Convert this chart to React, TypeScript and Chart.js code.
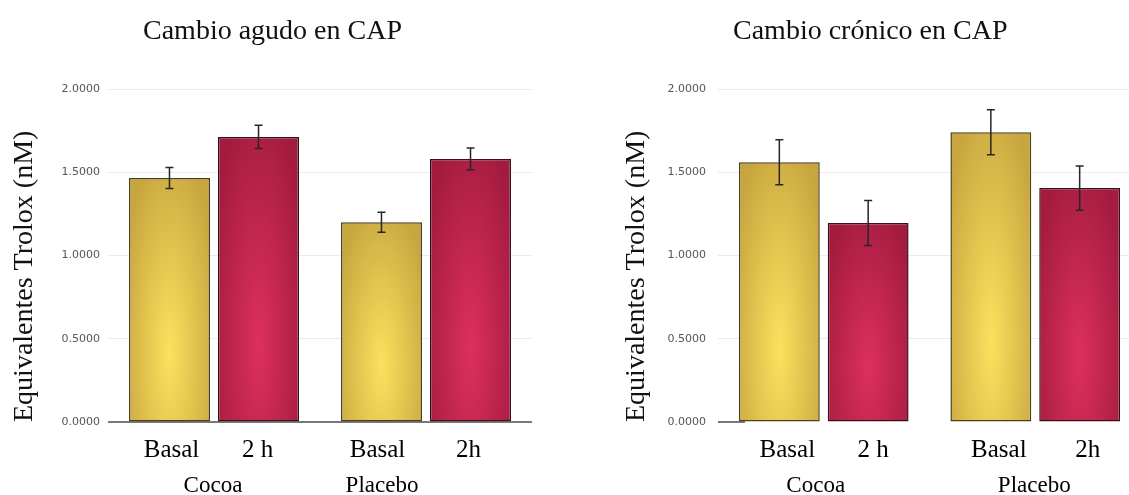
import React, { useEffect, useRef } from 'react';
import { Chart, registerables } from 'chart.js';

Chart.register(...registerables);

// ---------- data ----------
const groups = ['Cocoa', 'Placebo'];
const seriesNames = ['Basal', '2 h'];
const acuteBarLabels = ['Basal', '2 h', 'Basal', '2h'];
const chronicBarLabels = ['Basal', '2 h', 'Basal', '2h'];

const acuteBasal = [1.465, 1.2];
const acuteBasalErr = [0.063, 0.06];
const acute2h = [1.712, 1.58];
const acute2hErr = [0.07, 0.065];

const chronicBasal = [1.56, 1.74];
const chronicBasalErr = [0.135, 0.135];
const chronic2h = [1.195, 1.405];
const chronic2hErr = [0.135, 0.133];

const yTicks = [0, 0.5, 1, 1.5, 2];
const yTitle = 'Equivalentes Trolox (nM)';
const acuteTitle = 'Cambio agudo en CAP';
const chronicTitle = 'Cambio crónico en CAP';

// ---------- style ----------
const YELLOW = { inner: '#fbe15e', outer: '#c8a63f', border: '#4a3f1c' };
const RED = { inner: '#dc305d', outer: '#a41b40', border: '#3a0f1c' };
const SERIF = '"Liberation Serif", "Times New Roman", serif';

type Cfg = {
  basal: number[];
  basalErr: number[];
  late: number[];
  lateErr: number[];
  barLabels: string[];
  barDx: number[];
  groupDx: number[];
  yWidth: number;
  tickPad: number;
  titlePad: number;
  padRight: number;
  baselineExtent: number | null;
};

const acuteCfg: Cfg = {
  basal: acuteBasal,
  basalErr: acuteBasalErr,
  late: acute2h,
  lateErr: acute2hErr,
  barLabels: acuteBarLabels,
  barDx: [2, -1, -4, -2],
  groupDx: [-1, -44],
  yWidth: 108,
  tickPad: 8,
  titlePad: 8,
  padRight: 28,
  baselineExtent: null,
};

const chronicCfg: Cfg = {
  basal: chronicBasal,
  basalErr: chronicBasalErr,
  late: chronic2h,
  lateErr: chronic2hErr,
  barLabels: chronicBarLabels,
  barDx: [8, 5, 8, 8],
  groupDx: [-8, -1],
  yWidth: 138,
  tickPad: 12,
  titlePad: 40,
  padRight: 0,
  baselineExtent: 27,
};

function makePlugins(cfg: Cfg) {
  const palettes = [YELLOW, RED];
  const errs = [cfg.basalErr, cfg.lateErr];
  const vals = [cfg.basal, cfg.late];

  const gradient = {
    id: 'barGradient',
    beforeDatasetsDraw(chart: any) {
      chart.data.datasets.forEach((_: any, di: number) => {
        const meta = chart.getDatasetMeta(di);
        const pal = palettes[di];
        meta.data.forEach((el: any) => {
          const { x, y, base, width } = el.getProps(['x', 'y', 'base', 'width'], true);
          const top = Math.min(y, base);
          const h = Math.abs(base - y);
          const w = width;
          const off = document.createElement('canvas');
          off.width = Math.max(1, Math.ceil(w));
          off.height = Math.max(1, Math.ceil(h));
          const c = off.getContext('2d')!;
          c.save();
          c.translate(w / 2, h * 0.72);
          c.scale(w * 0.62, h * 0.85);
          const g = c.createRadialGradient(0, 0, 0, 0, 0, 1);
          g.addColorStop(0, pal.inner);
          g.addColorStop(1, pal.outer);
          c.fillStyle = g;
          c.fillRect(-5, -5, 10, 10);
          c.restore();
          const pattern = chart.ctx.createPattern(off, 'no-repeat');
          if (pattern) {
            pattern.setTransform(new DOMMatrix().translate(x - w / 2, top));
            el.options = Object.assign({}, el.options, { backgroundColor: pattern });
          }
        });
      });
    },
  };

  const errorBars = {
    id: 'errorBars',
    afterDatasetsDraw(chart: any) {
      const ctx = chart.ctx;
      const ys = chart.scales.y;
      ctx.save();
      ctx.strokeStyle = '#262626';
      ctx.lineWidth = 1.5;
      chart.data.datasets.forEach((_: any, di: number) => {
        const meta = chart.getDatasetMeta(di);
        meta.data.forEach((el: any, gi: number) => {
          const v = vals[di][gi];
          const e = errs[di][gi];
          const yTop = ys.getPixelForValue(v + e);
          const yBot = ys.getPixelForValue(v - e);
          const x = el.x;
          const cap = 4;
          ctx.beginPath();
          ctx.moveTo(x, yTop);
          ctx.lineTo(x, yBot);
          ctx.moveTo(x - cap, yTop);
          ctx.lineTo(x + cap, yTop);
          ctx.moveTo(x - cap, yBot);
          ctx.lineTo(x + cap, yBot);
          ctx.stroke();
        });
      });
      ctx.restore();
    },
  };

  const baseline = {
    id: 'baseline',
    afterDatasetsDraw(chart: any) {
      const ctx = chart.ctx;
      const area = chart.chartArea;
      const y0 = chart.scales.y.getPixelForValue(0);
      const xEnd = cfg.baselineExtent == null ? area.right : area.left + cfg.baselineExtent;
      ctx.save();
      ctx.strokeStyle = '#4d4d4d';
      ctx.lineWidth = 1.5;
      ctx.beginPath();
      ctx.moveTo(area.left, y0);
      ctx.lineTo(xEnd, y0);
      ctx.stroke();
      ctx.restore();
    },
  };

  const labels = {
    id: 'twoLevelLabels',
    afterDraw(chart: any) {
      const ctx = chart.ctx;
      const area = chart.chartArea;
      ctx.save();
      ctx.fillStyle = '#000';
      ctx.textAlign = 'center';
      ctx.textBaseline = 'alphabetic';
      ctx.font = `25px ${SERIF}`;
      chart.data.datasets.forEach((_: any, di: number) => {
        const meta = chart.getDatasetMeta(di);
        meta.data.forEach((el: any, gi: number) => {
          const idx = gi * 2 + di;
          ctx.fillText(cfg.barLabels[idx], el.x + cfg.barDx[idx], area.bottom + 35);
        });
      });
      ctx.font = `23px ${SERIF}`;
      groups.forEach((g, gi) => {
        const x = chart.scales.x.getPixelForValue(gi) + cfg.groupDx[gi];
        ctx.fillText(g, x, area.bottom + 70);
      });
      ctx.restore();
    },
  };

  return [gradient, errorBars, baseline, labels];
}

function BarPanel({ cfg, left, width }: { cfg: Cfg; left: number; width: number }) {
  const ref = useRef<HTMLCanvasElement | null>(null);
  useEffect(() => {
    if (!ref.current) return;
    const chart = new Chart(ref.current, {
      type: 'bar',
      data: {
        labels: groups,
        datasets: [
          {
            label: seriesNames[0],
            data: cfg.basal,
            backgroundColor: YELLOW.outer,
            borderColor: YELLOW.border,
            borderWidth: 1.5,
            borderSkipped: false,
            categoryPercentage: 0.84,
            barPercentage: 0.91,
          },
          {
            label: seriesNames[1],
            data: cfg.late,
            backgroundColor: RED.outer,
            borderColor: RED.border,
            borderWidth: 1.5,
            borderSkipped: false,
            categoryPercentage: 0.84,
            barPercentage: 0.91,
          },
        ],
      },
      options: {
        responsive: false,
        animation: false,
        layout: { padding: { left: 0, right: cfg.padRight, top: 89, bottom: 73 } },
        plugins: { legend: { display: false }, tooltip: { enabled: false }, title: { display: false } },
        scales: {
          x: {
            grid: { display: false },
            border: { display: false },
            ticks: { display: false },
            afterFit: (s: any) => {
              s.height = 0;
            },
          },
          y: {
            min: 0,
            max: 2,
            afterBuildTicks: (s: any) => {
              s.ticks = yTicks.map((v) => ({ value: v }));
            },
            afterFit: (s: any) => {
              s.width = cfg.yWidth;
            },
            grid: {
              color: (c: any) => (c.tick && c.tick.value === 0 ? 'rgba(0,0,0,0)' : '#ebebeb'),
              drawTicks: false,
              lineWidth: 1,
            },
            border: { display: false },
            ticks: {
              padding: cfg.tickPad,
              color: '#555',
              font: { family: '"DejaVu Sans", sans-serif', size: 11 },
              callback: (v: any) => Number(v).toFixed(4),
            },
            title: {
              display: true,
              text: yTitle,
              align: 'start',
              color: '#111',
              font: { family: SERIF, size: 28 },
              padding: { top: cfg.titlePad, bottom: 0 },
            },
          },
        },
      } as any,
      plugins: makePlugins(cfg) as any,
    });
    return () => chart.destroy();
  }, [cfg]);
  return (
    <canvas
      ref={ref}
      width={width}
      height={495}
      style={{ position: 'absolute', left, top: 0, width, height: 495 }}
    />
  );
}

const titleStyle: React.CSSProperties = {
  position: 'absolute',
  top: 14,
  fontFamily: SERIF,
  fontSize: 28,
  lineHeight: 'normal',
  whiteSpace: 'nowrap',
  color: '#111',
};

export default function App() {
  return (
    <div
      style={{
        position: 'fixed',
        left: 0,
        top: 0,
        width: 1129,
        height: 495,
        overflow: 'hidden',
        background: '#fff',
      }}
    >
      <BarPanel cfg={acuteCfg} left={0} width={560} />
      <BarPanel cfg={chronicCfg} left={580} width={561} />
      <div style={{ ...titleStyle, left: 143 }}>{acuteTitle}</div>
      <div style={{ ...titleStyle, left: 733 }}>{chronicTitle}</div>
    </div>
  );
}
